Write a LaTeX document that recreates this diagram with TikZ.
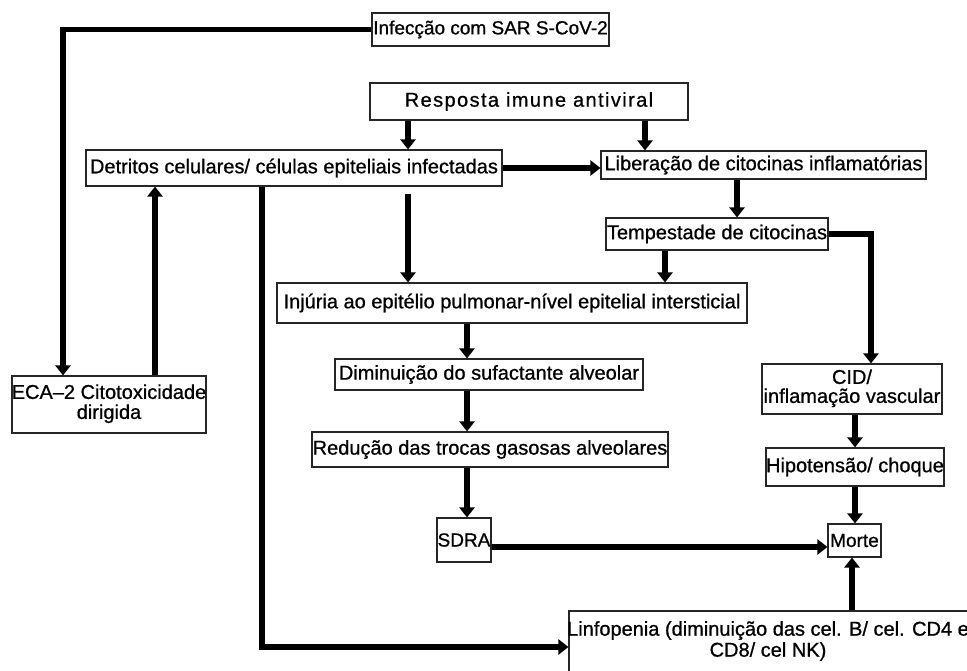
\documentclass[tikz,border=0pt]{standalone}
\usepackage{fontspec}
\setmainfont{Liberation Sans}
\newfontfamily\boxfont{Liberation Sans}[FakeBold=0.8]
\usetikzlibrary{arrows.meta,calc}
\begin{document}
\begin{tikzpicture}[x=1pt,y=-1pt,
  bx/.style={draw=black!85, line width=1.1pt, inner sep=0pt, fill=white, font=\boxfont\fontsize{20}{22}\selectfont},
  lbl/.style={inner sep=0pt, align=center, font=\boxfont\fontsize{20}{21}\selectfont},
  arr/.style={line width=5.4pt, line join=miter, -{Triangle[width=15pt,length=10pt]}}]
\useasboundingbox[fill=white] (0,0) rectangle (967,671);
% boxes
\node[bx, minimum width=237pt, minimum height=33pt] (inf) at (490.5,29.5) {\makebox[0pt]{\fontsize{19}{21}\selectfont Infecção com SAR S-CoV-2}};
\node[bx, minimum width=318pt, minimum height=37pt] (resp) at (529,101.5) {\makebox[0pt]{\addfontfeature{LetterSpace=7}Resposta imune antiviral}};
\node[bx, minimum width=416pt, minimum height=36pt] (detr) at (294,168) {\makebox[0pt]{Detritos celulares/ células epiteliais infectadas}};
\node[bx, minimum width=325pt, minimum height=28pt] (lib) at (763.5,165) {\makebox[0pt]{Liberação de citocinas inflamatórias}};
\node[bx, minimum width=222pt, minimum height=32pt] (temp) at (717,234) {\makebox[0pt]{Tempestade de citocinas}};
\node[bx, minimum width=470pt, minimum height=40pt] (inj) at (512,303) {\makebox[0pt]{Injúria ao epitélio pulmonar-nível epitelial intersticial}};
\node[bx, minimum width=308pt, minimum height=31pt] (dim) at (489,374.5) {\makebox[0pt]{Diminuição do sufactante alveolar}};
\node[bx, minimum width=356pt, minimum height=35pt] (red) at (490,449.5) {\makebox[0pt]{Redução das trocas gasosas alveolares}};
\node[bx, minimum width=194pt, minimum height=57pt] (eca) at (109,404.5) {\makebox[0pt]{\begin{tabular}{@{}c@{}}ECA–2 Citotoxicidade\\[-2pt]dirigida\end{tabular}}};
\node[bx, minimum width=180pt, minimum height=50pt] (cid) at (852,389) {\makebox[0pt]{\begin{tabular}{@{}c@{}}CID/\\[-3pt]inflamação vascular\end{tabular}}};
\node[bx, minimum width=178pt, minimum height=38pt] (hip) at (855,467) {\makebox[0pt]{Hipotensão/ choque}};
\node[bx, minimum width=54pt, minimum height=44pt] (sdra) at (464,540) {\makebox[0pt]{\fontsize{19}{21}\selectfont SDRA}};
\node[bx, minimum width=53pt, minimum height=33pt] (morte) at (854.5,540.5) {\makebox[0pt]{\fontsize{19}{21}\selectfont Morte}};
\node[bx, minimum width=416pt, minimum height=89pt] (linf) at (777,655.5) {};
\node[lbl] (linft) at (768,641) {Linfopenia (diminuição das cel. B/ cel. CD4 e\\CD8/ cel NK)};
% helper coordinates
\coordinate (xL) at (63,0);
\coordinate (xE) at (155,0);
\coordinate (xA) at (408,0);
\coordinate (xB) at (645,0);
\coordinate (xD) at (262,0);
\coordinate (yF) at (0,647);
\coordinate (xG) at (737,0);
\coordinate (xH) at (665,0);
\coordinate (xI) at (871,0);
\coordinate (xJ) at (467,0);
\coordinate (yK) at (0,547);
\coordinate (xM) at (855,0);
\coordinate (xN) at (852,0);
% connectors
\draw[arr] (inf.west) -| (eca.north -| xL);
\draw[arr] (eca.north -| xE) -- (detr.south -| xE);
\draw[arr] (resp.south -| xA) -- (detr.north -| xA);
\draw[arr] (resp.south -| xB) -- (lib.north -| xB);
\draw[arr] (detr.east) -- (lib.west |- detr.east);
\draw[arr] ($(detr.south -| xA)+(0,7)$) -- (inj.north -| xA);
\draw[arr] (detr.south -| xD) |- (linf.west |- yF);
\draw[arr] (lib.south -| xG) -- (temp.north -| xG);
\draw[arr] (temp.south -| xH) -- (inj.north -| xH);
\draw[arr] (temp.east) -| (cid.north -| xI);
\draw[arr] (inj.south -| xJ) -- (dim.north -| xJ);
\draw[arr] (dim.south -| xJ) -- (red.north -| xJ);
\draw[arr] (red.south -| xJ) -- (sdra.north -| xJ);
\draw[arr] (sdra.east |- yK) -- (morte.west |- yK);
\draw[arr] (cid.south -| xM) -- (hip.north -| xM);
\draw[arr] (hip.south -| xM) -- (morte.north -| xM);
\draw[arr] (linf.north -| xN) -- (morte.south -| xN);
\end{tikzpicture}
\end{document}
